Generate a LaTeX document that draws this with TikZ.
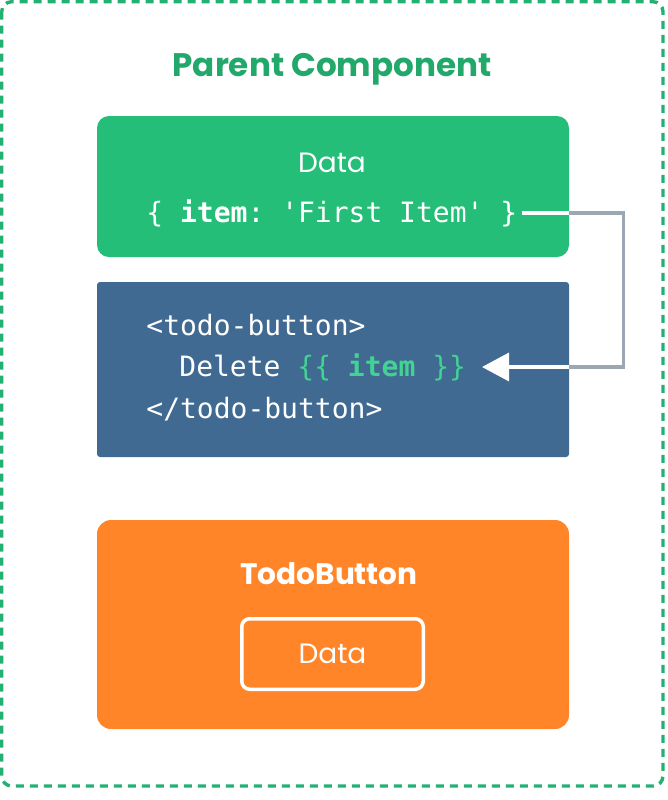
\documentclass[tikz,border=0pt]{standalone}
\usepackage{fontspec}
\setmainfont{Poppins}
\setmonofont{DejaVu Sans Mono}
\usetikzlibrary{arrows.meta}
\definecolor{vuegreen}{HTML}{24BE78}
\definecolor{titlegreen}{HTML}{21A86A}
\definecolor{dashgreen}{HTML}{24B073}
\definecolor{litegreen}{HTML}{42D392}
\definecolor{tagblue}{HTML}{406A92}
\definecolor{btnorange}{HTML}{FF8528}
\definecolor{wiregray}{HTML}{9BA7B3}
\tikzset{>=latex,
  panel/.style={minimum width=236pt,inner sep=0pt},
  code/.style={text=white,anchor=west,inner sep=2pt,font=\ttfamily\fontsize{14}{16}\selectfont},
  label/.style={text=white,font=\fontsize{14}{16}\selectfont},
  wire/.style={line width=1.75pt}}
\begin{document}
\begin{tikzpicture}[x=0.5pt,y=-0.5pt]
\useasboundingbox (0,0) rectangle (668,800);
\draw [dashgreen,line width=1.7pt,dash pattern=on 4pt off 3pt,rounded corners=5pt] (1.7,1.7) rectangle (663,786);
\node [text=titlegreen,font=\bfseries\fontsize{16.3}{18}\selectfont] (title) at (332,69) {Parent Component};
% data box
\node [panel,fill=vuegreen,minimum height=70.5pt,rounded corners=6pt] (data) at (333,186.5) {};
\node [label] (datalbl) at (332,163) {Data};
\node [code] (itemline) at (142,213) {\{ \textbf{item}: 'First Item' \}};
% template box
\node [panel,fill=tagblue,minimum height=87.5pt,rounded corners=1.5pt] (tmpl) at (333,369.5) {};
\node [code] (tagopen) at (142,325) {<todo-button>};
\node [code] (delline) at (175,367) {Delete \textcolor{litegreen}{\{\{ \textbf{item} \}\}}};
\node [code] (tagclose) at (142,409) {</todo-button>};
% child component
\node [panel,fill=btnorange,minimum height=104.5pt,rounded corners=7pt] (todo) at (333,624.5) {};
\node [text=white,font=\bfseries\fontsize{14.8}{17}\selectfont] (todolbl) at (329,574) {TodoButton};
\node [draw=white,line width=1.75pt,minimum width=90.75pt,minimum height=35.25pt,rounded corners=4pt,label] (inner) at (332.5,654) {Data};
% binding
\coordinate (tip) at (482,367);
\draw [wire,wiregray] (itemline.east -| data.east) -- ++(54,0) |- (tip -| tmpl.east);
\draw [wire,white] (itemline.east) -- (itemline.east -| data.east);
\draw [wire,white,-{Triangle[length=13.5pt,width=14pt]}] (tip -| tmpl.east) -- (tip);
\end{tikzpicture}
\end{document}
